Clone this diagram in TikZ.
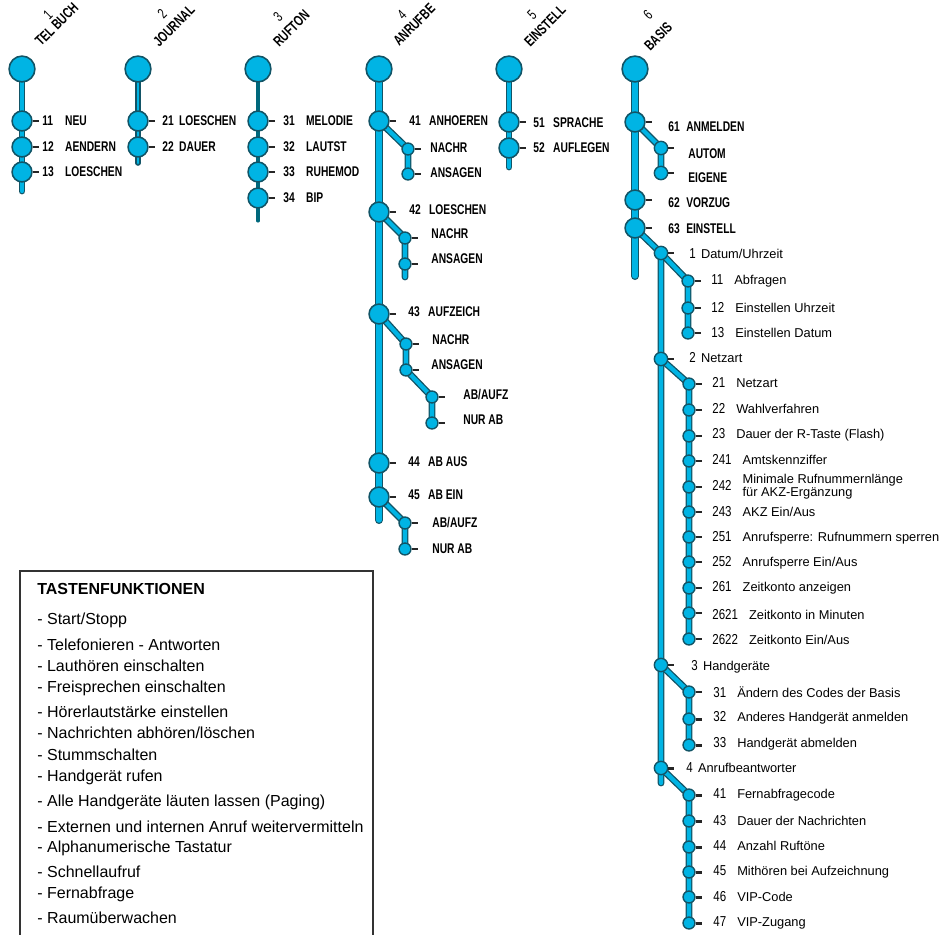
\documentclass[tikz,border=0pt]{standalone}
\usepackage{fontspec}
\setmainfont{Liberation Sans}
\newfontfamily\menufont[FakeStretch=0.73]{Liberation Sans}
\newfontfamily\numfont[FakeStretch=0.8]{Liberation Sans}
\usepackage{tikz}
\usetikzlibrary{positioning, backgrounds}
\definecolor{menucyan}{RGB}{0,180,228}
\definecolor{menuedge}{RGB}{18,84,102}
\definecolor{stemdark}{RGB}{0,104,124}
\newcommand{\mitem}[3]{\makebox[#1][l]{#2}#3}
\newcommand{\snum}[1]{{\numfont\fontsize{8.2}{9}\selectfont #1}\hspace{6.3pt}}
\newcommand{\cnum}[1]{{\numfont\fontsize{8.2}{9}\selectfont #1}\hspace{3pt}}

\begin{document}
\begin{tikzpicture}[
  x=0.02cm, y=-0.02cm,
  every node/.style={inner sep=0pt},
  topdot/.style={circle, draw=menuedge, fill=menucyan, line width=0.9pt, minimum size=14.7pt},
  subdot/.style={topdot, minimum size=11.3pt},
  smalldot/.style={topdot, line width=0.8pt, minimum size=7.6pt},
  tinydot/.style={topdot, line width=0.8pt, minimum size=6.8pt},
  branch/.style={draw=menuedge, line width=0.75pt, double=menucyan, double distance=2.4pt, line cap=round, line join=round},
  trunk/.style={branch, double distance=3.1pt},
  twig/.style={branch, double distance=1.7pt},
  darktrunk/.style={draw=stemdark, line width=1.8pt, line cap=round},
  stub/.style={draw=black!85, line width=1.7pt},
  mlabel/.style={anchor=west, font=\menufont\bfseries\fontsize{8}{9}\selectfont},
  hlabel/.style={rotate=45, anchor=base west, font=\menufont\bfseries\fontsize{8.3}{9}\selectfont},
  hnum/.style={rotate=45, font=\menufont\fontsize{8.3}{9}\selectfont},
  slabel/.style={anchor=west, font=\fontsize{7.3}{8.5}\selectfont},
  boxtext/.style={anchor=west, font=\fontsize{9.1}{10}\selectfont},
]
  \useasboundingbox (0,0) rectangle (942,935);

  % Menu headers
  \node[hnum] (h1n) at (48,15) {1};
  \node[hlabel] (h1) at (41,47) {TEL BUCH};
  \node[hnum] (h2n) at (162,14) {2};
  \node[hlabel] (h2) at (159,48) {JOURNAL};
  \node[hnum] (h3n) at (278,17) {3};
  \node[hlabel] (h3) at (279,48) {RUFTON};
  \node[hnum] (h4n) at (402,15) {4};
  \node[hlabel] (h4) at (399,47) {ANRUFBE};
  \node[hnum] (h5n) at (532,15) {5};
  \node[hlabel] (h5) at (530,48) {EINSTELL};
  \node[hnum] (h6n) at (648,15) {6};
  \node[hlabel] (h6) at (650,52) {BASIS};

  % 1 TEL BUCH
  \node[topdot] (t1) at (22,69) {};
  \node[subdot] (n11) at (22,121) {};
  \node[subdot] (n12) at (22,147) {};
  \node[subdot] (n13) at (22,172) {};
  \coordinate (e1) at (22,191);
  \node[mlabel] at (42,121) {\mitem{13pt}{11}{NEU}};
  \node[mlabel] at (42,147) {\mitem{13pt}{12}{AENDERN}};
  \node[mlabel] at (42,172) {\mitem{13pt}{13}{LOESCHEN}};

  % 2 JOURNAL
  \node[topdot] (t2) at (138,69) {};
  \node[subdot] (n21) at (138,121) {};
  \node[subdot] (n22) at (138,147) {};
  \coordinate (e2) at (138,163);
  \node[mlabel] at (162,121) {\mitem{9.6pt}{21}{LOESCHEN}};
  \node[mlabel] at (162,147) {\mitem{9.6pt}{22}{DAUER}};

  % 3 RUFTON
  \node[topdot] (t3) at (258,69) {};
  \node[subdot] (n31) at (258,121) {};
  \node[subdot] (n32) at (258,147) {};
  \node[subdot] (n33) at (258,172) {};
  \node[subdot] (n34) at (258,198) {};
  \coordinate (e3) at (258,221);
  \node[mlabel] at (283,121) {\mitem{13pt}{31}{MELODIE}};
  \node[mlabel] at (283,147) {\mitem{13pt}{32}{LAUTST}};
  \node[mlabel] at (283,172) {\mitem{13pt}{33}{RUHEMOD}};
  \node[mlabel] at (283,198) {\mitem{13pt}{34}{BIP}};

  % 4 ANRUFBE
  \node[topdot] (t4) at (379,69) {};
  \node[subdot] (n41) at (379,121) {};
  \node[tinydot] (a411) at (408,149) {};
  \node[tinydot] (a412) at (408,174) {};
  \node[subdot] (n42) at (379,212) {};
  \node[tinydot] (a421) at (405,238) {};
  \node[tinydot] (a422) at (405,264) {};
  \coordinate (e42) at (405,277);
  \node[subdot] (n43) at (379,314) {};
  \node[tinydot] (a431) at (406,344) {};
  \node[tinydot] (a432) at (406,370) {};
  \node[tinydot] (a433) at (432,397) {};
  \node[tinydot] (a434) at (432,423) {};
  \node[subdot] (n44) at (379,463) {};
  \node[subdot] (n45) at (379,497) {};
  \node[tinydot] (a451) at (405,523) {};
  \node[tinydot] (a452) at (405,549) {};
  \coordinate (e4) at (379,520);
  \node[mlabel] at (409,121) {\mitem{11.3pt}{41}{ANHOEREN}};
  \node[mlabel] at (430,148) {NACHR};
  \node[mlabel] at (430,173) {ANSAGEN};
  \node[mlabel] at (409,210) {\mitem{11.3pt}{42}{LOESCHEN}};
  \node[mlabel] at (431,234) {NACHR};
  \node[mlabel] at (431,259) {ANSAGEN};
  \node[mlabel] at (408,312) {\mitem{11.3pt}{43}{AUFZEICH}};
  \node[mlabel] at (432,340) {NACHR};
  \node[mlabel] at (431,365) {ANSAGEN};
  \node[mlabel] at (463,395) {AB/AUFZ};
  \node[mlabel] at (463,420) {NUR AB};
  \node[mlabel] at (408,462) {\mitem{11.3pt}{44}{AB AUS}};
  \node[mlabel] at (408,495) {\mitem{11.3pt}{45}{AB EIN}};
  \node[mlabel] at (432,523) {AB/AUFZ};
  \node[mlabel] at (432,549) {NUR AB};

  % 5 EINSTELL
  \node[topdot] (t5) at (509,69) {};
  \node[subdot] (n51) at (509,122) {};
  \node[subdot] (n52) at (509,148) {};
  \coordinate (e5) at (509,167);
  \node[mlabel] at (533,123) {\mitem{11.3pt}{51}{SPRACHE}};
  \node[mlabel] at (533,148) {\mitem{11.3pt}{52}{AUFLEGEN}};

  % 6 BASIS
  \node[topdot] (t6) at (635,69) {};
  \node[subdot] (n61) at (635,122) {};
  \node[smalldot] (b611) at (661,148) {};
  \node[smalldot] (b612) at (661,173) {};
  \node[subdot] (n62) at (635,200) {};
  \node[subdot] (n63) at (635,228) {};
  \coordinate (e6) at (635,276);
  \node[mlabel] at (668,127) {\mitem{10.2pt}{61}{ANMELDEN}};
  \node[mlabel] at (688,154) {AUTOM};
  \node[mlabel] at (688,178) {EIGENE};
  \node[mlabel] at (668,203) {\mitem{10.2pt}{62}{VORZUG}};
  \node[mlabel] at (668,229) {\mitem{10.2pt}{63}{EINSTELL}};

  % 63 EINSTELL, second level
  \node[smalldot] (c1) at (661,253) {};
  \node[smalldot] (c2) at (661,359) {};
  \node[smalldot] (c3) at (661,665) {};
  \node[smalldot] (c4) at (661,768) {};
  \coordinate (e7) at (661,783);
  \node[slabel] at (689,254) {\cnum{1}Datum/Uhrzeit};
  \node[slabel] at (689,358) {\cnum{2}Netzart};
  \node[slabel] at (691,667) {\cnum{3}Handgeräte};
  \node[slabel] at (686,768) {\cnum{4}Anrufbeantworter};

  % 1 Datum/Uhrzeit
  \node[tinydot] (d11) at (688,281) {};
  \node[tinydot] (d12) at (688,308) {};
  \node[tinydot] (d13) at (688,333) {};
  \node[slabel] at (711,281) {\snum{11}Abfragen};
  \node[slabel] at (711,308) {\snum{12}Einstellen Uhrzeit};
  \node[slabel] at (711,333) {\snum{13}Einstellen Datum};

  % 2 Netzart
  \node[tinydot] (d21) at (689,384) {};
  \node[tinydot] (d22) at (689,410) {};
  \node[tinydot] (d23) at (689,436) {};
  \node[tinydot] (d241) at (689,461) {};
  \node[tinydot] (d242) at (689,487) {};
  \node[tinydot] (d243) at (689,512) {};
  \node[tinydot] (d251) at (689,537) {};
  \node[tinydot] (d252) at (689,562) {};
  \node[tinydot] (d261) at (689,588) {};
  \node[tinydot] (d2621) at (689,613) {};
  \node[tinydot] (d2622) at (689,639) {};
  \node[slabel] at (712,383) {\snum{21}Netzart};
  \node[slabel] at (712,409) {\snum{22}Wahlverfahren};
  \node[slabel] at (712,435) {\snum{23}Dauer der R-Taste (Flash)};
  \node[slabel] at (712,460) {\snum{241}Amtskennziffer};
  \node[slabel] at (712,487) {\snum{242}{\def\arraystretch{0.8}\begin{tabular}{@{}l@{}}Minimale Rufnummernlänge\\für AKZ-Ergänzung\end{tabular}}};
  \node[slabel] at (712,512) {\snum{243}AKZ Ein/Aus};
  \node[slabel] at (712,538) {\snum{251}Anrufsperre: Rufnummern sperren};
  \node[slabel] at (712,563) {\snum{252}Anrufsperre Ein/Aus};
  \node[slabel] at (712,588) {\snum{261}Zeitkonto anzeigen};
  \node[slabel] at (712,615) {\snum{2621}Zeitkonto in Minuten};
  \node[slabel] at (712,640) {\snum{2622}Zeitkonto Ein/Aus};

  % 3 Handgeraete
  \node[tinydot] (d31) at (689,692) {};
  \node[tinydot] (d32) at (689,719) {};
  \node[tinydot] (d33) at (689,745) {};
  \node[slabel] at (713,692) {\snum{31}Ändern des Codes der Basis};
  \node[slabel] at (713,718) {\snum{32}Anderes Handgerät anmelden};
  \node[slabel] at (713,744) {\snum{33}Handgerät abmelden};

  % 4 Anrufbeantworter
  \node[tinydot] (d41) at (689,795) {};
  \node[tinydot] (d43) at (689,821) {};
  \node[tinydot] (d44) at (689,847) {};
  \node[tinydot] (d45) at (689,872) {};
  \node[tinydot] (d46) at (689,897) {};
  \node[tinydot] (d47) at (689,923) {};
  \node[slabel] at (713,795) {\snum{41}Fernabfragecode};
  \node[slabel] at (713,821) {\snum{43}Dauer der Nachrichten};
  \node[slabel] at (713,846) {\snum{44}Anzahl Ruftöne};
  \node[slabel] at (713,872) {\snum{45}Mithören bei Aufzeichnung};
  \node[slabel] at (713,897) {\snum{46}VIP-Code};
  \node[slabel] at (713,923) {\snum{47}VIP-Zugang};

  % Stubs next to the dots
  \foreach \d in {n11,n12,n13,n21,n22,n31,n32,n33,n34,n41,a411,a412,n42,a421,a422,
      n43,a431,a432,a433,a434,n44,n45,a451,a452,n51,n52,n61,b611,b612,n62,n63,
      c1,c2,c3,c4,d11,d12,d13,d21,d22,d23,d241,d242,d243,d251,d252,d261,d2621,d2622,
      d31,d32,d33,d41,d43,d44,d45,d46,d47}
    \draw[stub] (\d.east) -- ++(6,0);

  % Lines behind the dots
  \begin{scope}[on background layer]
    \draw[branch] (t1.center) -- (e1);
    \draw[twig] (t2.center) -- (e2);
    \draw[darktrunk] (t3.center) -- (e3);
    \draw[trunk] (t4.center) -- (e4);
    \draw[branch] (n41.center) -- (a411.center) -- (a412.center);
    \draw[branch] (n42.center) -- (a421.center) -- (e42);
    \draw[branch] (n43.center) -- (a431.center) -- (a432.center) -- (a433.center) -- (a434.center);
    \draw[branch] (n45.center) -- (a451.center) -- (a452.center);
    \draw[branch] (t5.center) -- (e5);
    \draw[trunk] (t6.center) -- (e6);
    \draw[branch] (n61.center) -- (b611.center) -- (b612.center);
    \draw[branch] (n63.center) -- (c1.center) -- (e7);
    \draw[branch] (c1.center) -- (d11.center) -- (d13.center);
    \draw[branch] (c2.center) -- (d21.center) -- (d2622.center);
    \draw[branch] (c3.center) -- (d31.center) -- (d33.center);
    \draw[branch] (c4.center) -- (d41.center) -- (d47.center);
  \end{scope}

  % Key functions box
  \coordinate (bl) at (20,935);
  \coordinate (br) at (373,935);
  \draw[black!80, line width=0.6pt] (bl) -- (20,571) -- (373,571) -- (br);
  \node[boxtext, font=\bfseries\fontsize{9.1}{10}\selectfont] (keys) at (37,589) {TASTENFUNKTIONEN};
  \foreach \y/\t [count=\i] in {620/{Start/Stopp}, 645/{Telefonieren - Antworten},
      666/{Lauthören einschalten}, 688/{Freisprechen einschalten},
      712/{Hörerlautstärke einstellen}, 733/{Nachrichten abhören/löschen},
      755/{Stummschalten}, 777/{Handgerät rufen},
      802/{Alle Handgeräte läuten lassen (Paging)},
      827/{Externen und internen Anruf weitervermitteln},
      848/{Alphanumerische Tastatur}, 872/{Schnellaufruf},
      894/{Fernabfrage}, 918/{Raumüberwachen}}
    \node[boxtext] (key\i) at (37,\y) {- \t};
\end{tikzpicture}
\end{document}
